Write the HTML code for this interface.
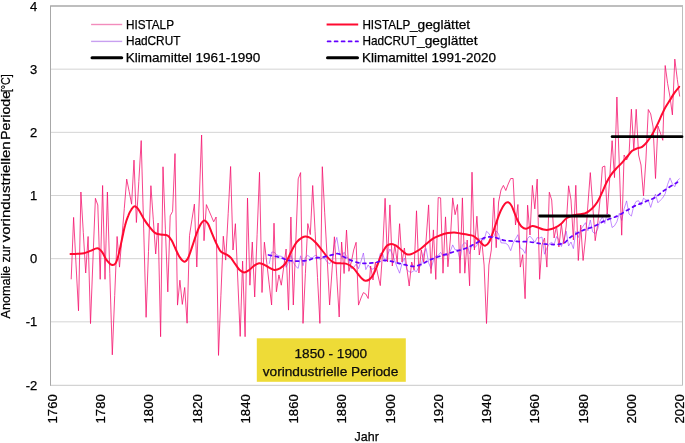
<!DOCTYPE html>
<html><head><meta charset="utf-8"><style>
html,body{margin:0;padding:0;background:#fff;}
svg{display:block;will-change:transform;}
text{stroke:#000;stroke-width:0.25px;}
</style></head><body>
<svg width="685" height="443" viewBox="0 0 685 443">
<rect width="685" height="443" fill="#fff"/>
<line x1="51" y1="69.17" x2="682" y2="69.17" stroke="#d4d4d4" stroke-width="1"/>
<line x1="51" y1="132.33" x2="682" y2="132.33" stroke="#d4d4d4" stroke-width="1"/>
<line x1="51" y1="195.50" x2="682" y2="195.50" stroke="#d4d4d4" stroke-width="1"/>
<line x1="51" y1="258.67" x2="682" y2="258.67" stroke="#d4d4d4" stroke-width="1"/>
<line x1="51" y1="321.83" x2="682" y2="321.83" stroke="#d4d4d4" stroke-width="1"/>
<line x1="50.5" y1="6" x2="683" y2="6" stroke="#a8a8a8" stroke-width="1.6"/>
<line x1="682.5" y1="6" x2="682.5" y2="385.5" stroke="#bdbdbd" stroke-width="1"/>
<line x1="50.5" y1="385.3" x2="682.5" y2="385.3" stroke="#c8c8c8" stroke-width="1"/>
<line x1="50.5" y1="5.5" x2="50.5" y2="385.8" stroke="#a8a8a8" stroke-width="1"/>
<polyline points="269.2,263.9 271.6,252.2 274.0,252.0 276.4,254.6 278.9,255.9 281.3,256.3 283.7,257.7 286.1,267.3 288.5,262.0 290.9,255.3 293.3,262.3 295.8,266.4 298.2,268.4 300.6,255.8 303.0,265.7 305.4,257.2 307.8,255.4 310.3,257.5 312.7,257.8 315.1,255.2 317.5,256.3 319.9,259.5 322.3,258.0 324.7,258.5 327.2,262.1 329.6,263.8 332.0,261.3 334.4,244.6 336.8,237.4 339.2,252.2 341.6,257.4 344.1,252.2 346.5,256.2 348.9,259.4 351.3,268.6 353.7,267.3 356.1,264.2 358.5,268.7 361.0,261.3 363.4,253.0 365.8,269.6 368.2,264.9 370.6,268.5 373.0,269.2 375.4,266.7 377.9,263.7 380.3,253.4 382.7,253.8 385.1,261.8 387.5,255.1 389.9,249.0 392.3,253.8 394.8,260.8 397.2,267.4 399.6,273.2 402.0,263.3 404.4,258.1 406.8,269.7 409.2,271.7 411.7,272.2 414.1,270.5 416.5,271.6 418.9,266.6 421.3,265.5 423.7,253.7 426.1,248.5 428.6,262.7 431.0,268.6 433.4,260.9 435.8,256.1 438.2,255.4 440.6,252.4 443.0,256.1 445.5,255.4 447.9,255.5 450.3,251.3 452.7,244.9 455.1,249.8 457.5,249.8 460.0,259.7 462.4,245.0 464.8,242.5 467.2,244.7 469.6,253.9 472.0,244.7 474.4,247.9 476.9,245.6 479.3,238.8 481.7,238.9 484.1,240.1 486.5,231.3 488.9,233.4 491.3,237.8 493.8,236.6 496.2,230.9 498.6,234.0 501.0,242.8 503.4,243.0 505.8,243.3 508.2,245.2 510.7,250.7 513.1,243.1 515.5,239.0 517.9,234.7 520.3,248.2 522.7,249.3 525.1,253.4 527.6,238.3 530.0,236.1 532.4,238.9 534.8,242.3 537.2,237.6 539.6,238.0 542.0,237.0 544.5,254.2 546.9,248.0 549.3,243.8 551.7,242.4 554.1,244.5 556.5,236.6 558.9,239.7 561.4,246.5 563.8,239.8 566.2,231.2 568.6,246.0 571.0,242.0 573.4,248.6 575.8,231.6 578.3,237.5 580.7,229.4 583.1,226.1 585.5,222.7 587.9,230.7 590.3,220.0 592.7,231.9 595.2,233.7 597.6,229.3 600.0,221.0 602.4,216.7 604.8,223.5 607.2,213.3 609.6,215.5 612.1,227.5 614.5,225.8 616.9,221.7 619.3,213.3 621.7,220.5 624.1,208.8 626.6,200.9 629.0,214.0 631.4,216.1 633.8,205.7 636.2,201.4 638.6,200.7 641.0,205.3 643.5,198.2 645.9,200.0 648.3,200.2 650.7,207.4 653.1,199.4 655.5,194.1 657.9,202.8 660.4,200.2 662.8,197.8 665.2,193.7 667.6,184.4 670.0,177.9 672.4,183.8 674.8,186.7 677.3,180.8 679.7,178.4" fill="none" stroke="#9a40ff" stroke-width="0.6" stroke-linejoin="round"/>
<polyline points="71.2,279.3 73.6,217.4 76.0,264.1 78.5,310.8 80.9,192.0 83.3,232.5 85.7,273.0 88.1,236.5 90.5,323.6 92.9,261.0 95.4,198.3 97.8,205.0 100.2,279.3 102.6,185.5 105.0,279.3 107.4,192.0 109.8,273.4 112.3,354.8 114.7,295.6 117.1,236.5 119.5,267.1 121.9,237.8 124.3,208.4 126.7,179.1 129.2,191.6 131.6,204.2 134.0,160.1 136.4,222.5 138.8,181.6 141.2,140.6 143.7,228.9 146.1,317.3 148.5,251.5 150.9,185.7 153.3,219.8 155.7,254.0 158.1,223.0 160.6,336.7 163.0,166.8 165.4,229.3 167.8,291.9 170.2,215.8 172.6,211.4 175.0,153.6 177.5,305.1 179.9,280.2 182.3,304.4 184.7,287.5 187.1,323.2 189.5,235.6 191.9,219.8 194.4,204.1 196.8,267.0 199.2,201.0 201.6,135.0 204.0,240.7 206.4,204.6 208.8,210.3 211.3,216.1 213.7,221.8 216.1,217.0 218.5,355.4 220.9,295.8 223.3,236.2 225.7,260.1 228.2,213.3 230.6,166.5 233.0,250.0 235.4,223.7 237.8,280.0 240.2,336.4 242.6,261.1 245.1,336.7 247.5,198.0 249.9,285.2 252.3,242.0 254.7,297.0 257.1,234.7 259.5,172.3 262.0,292.5 264.4,242.2 266.8,263.1 269.2,284.1 271.6,305.0 274.0,223.2 276.4,291.8 278.9,274.9 281.3,285.2 283.7,267.1 286.1,249.0 288.5,310.1 290.9,217.0 293.3,305.0 295.8,241.9 298.2,178.9 300.6,172.6 303.0,323.4 305.4,273.5 307.8,223.6 310.3,234.6 312.7,185.5 315.1,231.5 317.5,277.4 319.9,323.4 322.3,166.7 324.7,212.8 327.2,258.9 329.6,305.0 332.0,270.9 334.4,236.8 336.8,276.9 339.2,317.0 341.6,242.0 344.1,273.5 346.5,230.0 348.9,271.3 351.3,262.0 353.7,250.0 356.1,242.3 358.5,305.1 361.0,298.0 363.4,292.6 365.8,294.0 368.2,298.5 370.6,266.0 373.0,280.0 375.4,262.0 377.9,275.0 380.3,285.6 382.7,250.0 385.1,198.3 387.5,262.0 389.9,204.9 392.3,266.0 394.8,245.0 397.2,262.0 399.6,223.7 402.0,262.0 404.4,248.0 406.8,268.0 409.2,286.0 411.7,262.0 414.1,270.0 416.5,210.8 418.9,273.0 421.3,250.0 423.7,262.0 426.1,240.0 428.6,204.9 431.0,273.5 433.4,229.9 435.8,279.4 438.2,197.6 440.6,197.9 443.0,273.2 445.5,216.9 447.9,266.8 450.3,240.0 452.7,197.9 455.1,214.7 457.5,204.5 460.0,273.2 462.4,197.9 464.8,273.2 467.2,240.0 469.6,285.8 472.0,172.2 474.4,250.0 476.9,216.2 479.3,255.0 481.7,240.0 484.1,265.0 486.5,323.5 488.9,265.0 491.3,250.0 493.8,197.9 496.2,247.7 498.6,202.0 501.0,190.0 503.4,185.4 505.8,190.5 508.2,184.0 510.7,178.5 513.1,178.5 515.5,225.0 517.9,204.5 520.3,267.1 522.7,254.7 525.1,298.7 527.6,205.2 530.0,235.0 532.4,185.4 534.8,208.9 537.2,179.1 539.6,279.3 542.0,245.0 544.5,238.0 546.9,267.1 549.3,192.2 551.7,200.0 554.1,238.0 556.5,226.0 558.9,247.0 561.4,224.0 563.8,244.0 566.2,226.0 568.6,185.8 571.0,200.0 573.4,240.0 575.8,185.3 578.3,260.5 580.7,225.0 583.1,260.5 585.5,238.0 587.9,205.0 590.3,172.6 592.7,205.0 595.2,240.7 597.6,225.0 600.0,200.0 602.4,167.0 604.8,166.0 607.2,214.0 609.6,180.0 612.1,140.7 614.5,177.6 616.9,97.0 619.3,165.0 621.7,235.2 624.1,155.0 626.6,160.0 629.0,155.0 631.4,109.2 633.8,150.0 636.2,109.3 638.6,155.0 641.0,165.0 643.5,195.9 645.9,160.0 648.3,109.5 650.7,113.9 653.1,127.0 655.5,178.5 657.9,126.0 660.4,133.0 662.8,140.3 665.2,65.5 667.6,83.4 670.0,97.0 672.4,114.9 674.8,59.1 677.3,79.4 679.7,96.5" fill="none" stroke="#f5146e" stroke-width="0.8" stroke-linejoin="round"/>
<path d="M70.5,254.1 C71.7,254.1 75.3,253.9 77.6,253.8 C79.8,253.7 81.9,253.8 84.0,253.3 C86.1,252.8 88.1,251.8 90.3,250.9 C92.5,250.1 95.4,248.0 97.4,248.2 C99.4,248.4 100.8,250.3 102.2,252.2 C103.7,254.0 104.5,257.2 106.1,259.3 C107.7,261.4 110.0,264.2 111.6,264.8 C113.2,265.4 114.4,265.0 115.6,263.2 C116.8,261.4 117.8,257.8 118.8,253.8 C119.8,249.9 120.9,244.2 121.9,239.5 C123.0,234.8 124.0,229.2 125.1,225.3 C126.1,221.4 127.1,218.4 128.2,215.8 C129.2,213.2 130.3,211.1 131.4,209.5 C132.5,207.9 133.4,206.3 134.6,206.3 C135.8,206.3 136.9,207.3 138.5,209.5 C140.1,211.7 142.3,216.5 144.1,219.4 C145.9,222.3 147.7,224.7 149.5,226.9 C151.3,229.2 153.2,231.6 155.0,232.9 C156.8,234.2 158.5,234.1 160.6,234.5 C162.7,234.9 165.9,234.6 167.7,235.6 C169.5,236.6 170.3,238.1 171.6,240.3 C172.9,242.5 174.3,246.2 175.6,249.0 C176.9,251.8 178.1,254.8 179.5,256.9 C180.9,259.0 182.9,261.6 184.3,261.7 C185.8,261.8 186.9,260.2 188.2,257.7 C189.5,255.2 190.9,250.4 192.2,246.6 C193.5,242.8 194.8,238.4 196.1,234.8 C197.4,231.2 198.8,227.7 200.1,225.3 C201.4,222.9 202.7,220.9 204.0,220.6 C205.3,220.3 206.7,221.6 208.0,223.7 C209.3,225.8 210.6,230.0 211.9,233.2 C213.2,236.4 214.6,239.9 215.9,242.7 C217.2,245.5 218.7,248.5 219.8,250.2 C220.9,251.9 221.2,251.9 222.4,252.7 C223.6,253.5 225.7,253.9 227.2,254.8 C228.7,255.7 229.8,256.6 231.2,258.2 C232.5,259.8 233.8,262.2 235.3,264.2 C236.8,266.2 238.5,268.9 240.0,270.3 C241.5,271.7 242.6,272.4 244.1,272.4 C245.6,272.4 247.1,271.4 248.8,270.3 C250.5,269.2 252.5,266.8 254.2,265.6 C255.9,264.4 257.4,263.5 259.0,263.3 C260.6,263.1 262.0,263.8 263.7,264.5 C265.4,265.2 267.3,266.7 269.1,267.6 C270.9,268.5 272.7,269.8 274.5,269.9 C276.3,270.0 278.2,269.4 280.0,268.3 C281.8,267.2 283.6,266.2 285.5,263.4 C287.4,260.6 289.4,255.1 291.3,251.5 C293.2,247.9 295.0,244.2 296.9,241.9 C298.8,239.6 301.0,238.3 302.5,237.4 C304.0,236.5 304.4,236.5 305.7,236.6 C307.0,236.7 308.7,236.9 310.4,238.0 C312.1,239.1 314.2,241.0 316.1,243.0 C318.0,245.0 319.8,247.5 321.7,249.8 C323.6,252.2 325.5,255.0 327.4,257.1 C329.3,259.2 331.3,261.2 333.0,262.2 C334.7,263.2 336.2,263.1 337.5,263.3 C338.8,263.5 339.6,263.1 341.0,263.2 C342.4,263.2 344.3,263.2 345.8,263.6 C347.3,264.0 348.5,264.7 349.9,265.5 C351.2,266.3 352.5,267.2 353.9,268.6 C355.2,270.0 356.6,272.3 358.0,274.0 C359.4,275.7 360.9,277.6 362.1,278.7 C363.3,279.8 364.2,280.6 365.4,280.7 C366.6,280.8 368.1,280.5 369.5,279.4 C370.9,278.3 372.4,276.1 373.6,274.0 C374.8,271.9 375.8,269.3 376.9,266.5 C378.0,263.7 379.2,259.8 380.3,257.1 C381.4,254.4 382.6,252.2 383.7,250.3 C384.8,248.4 385.9,246.7 387.1,245.6 C388.4,244.5 389.9,244.0 391.2,243.9 C392.5,243.8 393.8,244.5 395.2,245.2 C396.6,245.9 397.9,247.2 399.3,248.3 C400.7,249.4 402.1,250.7 403.3,251.7 C404.5,252.7 405.4,253.8 406.7,254.2 C407.9,254.6 409.5,254.6 410.8,254.3 C412.1,254.0 413.0,253.5 414.7,252.5 C416.4,251.5 419.0,250.1 421.1,248.5 C423.2,246.9 425.3,244.7 427.4,243.0 C429.5,241.3 431.3,239.6 433.7,238.2 C436.1,236.8 439.2,235.6 441.6,234.7 C444.0,233.8 445.8,233.4 447.9,233.0 C450.0,232.6 452.2,232.3 454.3,232.4 C456.4,232.5 458.5,233.1 460.6,233.5 C462.7,233.9 464.8,234.2 466.9,234.6 C469.0,235.0 471.3,234.9 473.2,235.8 C475.1,236.7 476.6,238.5 478.0,239.8 C479.4,241.1 480.7,242.8 481.9,243.8 C483.1,244.8 483.9,246.0 485.1,245.7 C486.3,245.4 487.7,244.4 489.0,242.2 C490.3,240.0 491.6,236.3 492.9,232.7 C494.2,229.1 495.6,224.5 496.9,220.8 C498.2,217.1 499.5,213.4 500.8,210.6 C502.1,207.8 503.6,205.3 504.8,203.9 C506.0,202.5 506.8,202.1 507.9,202.3 C508.9,202.5 510.1,203.4 511.1,205.0 C512.2,206.6 513.2,209.6 514.2,212.1 C515.2,214.6 516.2,217.6 517.4,220.0 C518.6,222.4 519.9,225.0 521.4,226.4 C522.9,227.8 524.3,228.8 526.1,228.7 C527.9,228.6 530.5,226.2 532.4,226.0 C534.2,225.8 535.4,226.6 537.2,227.2 C539.1,227.8 541.7,229.1 543.5,229.5 C545.3,229.9 546.4,230.1 548.2,229.8 C550.1,229.5 552.5,228.9 554.6,227.9 C556.7,226.9 558.9,225.7 560.9,224.0 C562.9,222.3 564.3,219.6 566.8,218.0 C569.3,216.4 572.8,215.4 575.8,214.7 C578.8,213.9 582.2,214.4 584.8,213.5 C587.4,212.6 589.5,210.9 591.6,209.0 C593.7,207.1 595.5,204.8 597.2,202.2 C598.9,199.6 600.3,196.4 601.8,193.2 C603.3,190.0 604.8,186.0 606.3,183.0 C607.8,180.0 609.1,177.5 610.8,175.1 C612.5,172.7 614.5,170.5 616.4,168.4 C618.3,166.3 620.2,164.8 622.1,162.7 C624.0,160.6 626.0,158.0 627.7,156.0 C629.4,154.0 630.6,152.1 632.2,150.8 C633.9,149.5 636.0,148.9 637.6,148.2 C639.2,147.5 640.6,147.8 642.1,146.8 C643.6,145.8 645.2,144.1 646.7,142.3 C648.2,140.5 649.9,138.1 651.2,136.0 C652.6,133.9 653.6,131.9 654.8,129.6 C656.0,127.3 657.2,125.0 658.4,122.4 C659.6,119.9 660.8,116.8 662.0,114.3 C663.2,111.8 664.2,109.5 665.6,107.1 C667.0,104.7 668.6,102.3 670.1,99.9 C671.6,97.5 673.1,94.8 674.6,92.6 C676.1,90.4 678.4,87.9 679.2,86.9" fill="none" stroke="#ff0a30" stroke-width="2.0" stroke-linejoin="round" stroke-linecap="round"/>
<path d="M268.5,255.0 C270.4,255.4 276.6,256.6 280.0,257.5 C283.4,258.4 286.0,259.9 289.0,260.5 C292.0,261.1 295.0,261.1 298.0,261.1 C301.0,261.1 304.5,261.0 307.1,260.5 C309.7,260.0 311.2,258.9 313.8,258.3 C316.4,257.7 319.8,257.7 322.8,257.1 C325.8,256.5 329.4,255.5 331.9,254.9 C334.4,254.3 336.1,253.4 338.0,253.7 C339.9,253.9 340.9,255.3 343.1,256.4 C345.3,257.5 348.5,259.3 351.2,260.4 C353.9,261.5 356.7,262.4 359.4,262.9 C362.1,263.4 364.8,263.3 367.5,263.2 C370.2,263.1 372.9,263.0 375.6,262.5 C378.3,262.0 381.0,260.6 383.7,260.4 C386.4,260.2 389.1,260.9 391.8,261.4 C394.5,261.9 397.3,262.9 400.0,263.6 C402.7,264.3 405.6,265.1 408.1,265.5 C410.6,265.9 412.4,266.6 414.8,266.3 C417.2,266.0 420.1,264.7 422.7,263.6 C425.3,262.5 427.5,260.9 430.6,259.6 C433.8,258.3 437.7,256.9 441.6,255.6 C445.6,254.3 450.4,252.9 454.3,251.7 C458.2,250.5 461.6,249.9 465.3,248.5 C469.0,247.1 473.1,244.8 476.4,243.0 C479.7,241.2 482.0,238.4 485.0,237.5 C488.0,236.6 491.3,236.9 494.5,237.4 C497.7,237.9 500.3,239.6 504.0,240.3 C507.7,241.0 512.4,241.1 516.6,241.4 C520.8,241.7 525.1,241.5 529.3,241.9 C533.5,242.3 537.7,243.4 541.9,243.8 C546.1,244.2 550.9,244.6 554.6,244.5 C558.3,244.4 561.4,244.2 564.0,243.0 C566.6,241.8 567.2,239.4 570.2,237.4 C573.2,235.4 578.0,232.6 581.9,230.8 C585.8,229.0 589.8,228.1 593.7,226.4 C597.6,224.7 601.5,222.2 605.4,220.5 C609.3,218.8 613.7,217.7 617.1,216.1 C620.5,214.5 622.9,212.7 625.9,211.0 C628.9,209.3 631.8,207.4 635.0,205.9 C638.2,204.4 641.7,203.2 645.0,201.8 C648.3,200.4 651.4,199.6 654.6,197.7 C657.9,195.8 660.7,192.9 664.5,190.3 C668.3,187.7 675.3,183.5 677.5,182.2" fill="none" stroke="#6400ff" stroke-width="1.75" stroke-dasharray="3.0 4.0" stroke-linecap="round" stroke-linejoin="round"/>
<line x1="539.6" y1="216.0" x2="609.4" y2="216.0" stroke="#000" stroke-width="2.8" stroke-linecap="round"/>
<line x1="612.1" y1="136.7" x2="682" y2="136.7" stroke="#000" stroke-width="2.8" stroke-linecap="round"/>
<rect x="256.8" y="338.3" width="149" height="43.5" fill="#eedb37"/>
<text x="330.8" y="358.3" text-anchor="middle" textLength="72.5" lengthAdjust="spacingAndGlyphs" style="font-family:'Liberation Sans',sans-serif;font-size:13px" fill="#111">1850 - 1900</text>
<text x="330.5" y="376.4" text-anchor="middle" textLength="135.7" lengthAdjust="spacingAndGlyphs" style="font-family:'Liberation Sans',sans-serif;font-size:13px" fill="#111">vorindustrielle Periode</text>
<line x1="91.1" y1="24.5" x2="122.2" y2="24.5" stroke="#f28cbc" stroke-width="1.4"/>
<line x1="91.1" y1="41.4" x2="122.2" y2="41.4" stroke="#c8a0f0" stroke-width="1.4"/>
<line x1="92" y1="57.7" x2="121.7" y2="57.7" stroke="#000" stroke-width="3" stroke-linecap="round"/>
<line x1="326.6" y1="24.5" x2="358.2" y2="24.5" stroke="#ff0a30" stroke-width="2.0"/>
<line x1="327.6" y1="41.4" x2="358" y2="41.4" stroke="#6400ff" stroke-width="1.75" stroke-dasharray="3.0 4.0" stroke-linecap="round"/>
<line x1="327.5" y1="57.7" x2="357.5" y2="57.7" stroke="#000" stroke-width="3" stroke-linecap="round"/>
<text x="125.9" y="28.7" text-anchor="start" textLength="48.1" lengthAdjust="spacingAndGlyphs" style="font-family:'Liberation Sans',sans-serif;font-size:13px" fill="#000" >HISTALP</text>
<text x="125.9" y="45.3" text-anchor="start" textLength="54.5" lengthAdjust="spacingAndGlyphs" style="font-family:'Liberation Sans',sans-serif;font-size:13px" fill="#000" >HadCRUT</text>
<text x="125.8" y="61.7" text-anchor="start" textLength="134.4" lengthAdjust="spacingAndGlyphs" style="font-family:'Liberation Sans',sans-serif;font-size:13px" fill="#000" >Klimamittel 1961-1990</text>
<text x="362.4" y="28.7" text-anchor="start" textLength="47.9" lengthAdjust="spacingAndGlyphs" style="font-family:'Liberation Sans',sans-serif;font-size:13px" fill="#000" >HISTALP</text>
<text x="409.9" y="28.7" text-anchor="start" textLength="60.3" lengthAdjust="spacingAndGlyphs" style="font-family:'Liberation Sans',sans-serif;font-size:13px" fill="#000" >_geglättet</text>
<text x="362.4" y="45.3" text-anchor="start" textLength="54.3" lengthAdjust="spacingAndGlyphs" style="font-family:'Liberation Sans',sans-serif;font-size:13px" fill="#000" >HadCRUT</text>
<text x="417.0" y="45.3" text-anchor="start" textLength="60.6" lengthAdjust="spacingAndGlyphs" style="font-family:'Liberation Sans',sans-serif;font-size:13px" fill="#000" >_geglättet</text>
<text x="362.0" y="61.7" text-anchor="start" textLength="134.0" lengthAdjust="spacingAndGlyphs" style="font-family:'Liberation Sans',sans-serif;font-size:13px" fill="#000" >Klimamittel 1991-2020</text>
<text x="37.2" y="10.6" text-anchor="end" style="font-family:'Liberation Sans',sans-serif;font-size:13px" fill="#000" >4</text>
<text x="37.2" y="73.76669999999999" text-anchor="end" style="font-family:'Liberation Sans',sans-serif;font-size:13px" fill="#000" >3</text>
<text x="37.2" y="136.93339999999998" text-anchor="end" style="font-family:'Liberation Sans',sans-serif;font-size:13px" fill="#000" >2</text>
<text x="37.2" y="200.1001" text-anchor="end" style="font-family:'Liberation Sans',sans-serif;font-size:13px" fill="#000" >1</text>
<text x="37.2" y="263.2668" text-anchor="end" style="font-family:'Liberation Sans',sans-serif;font-size:13px" fill="#000" >0</text>
<text x="37.2" y="326.43350000000004" text-anchor="end" style="font-family:'Liberation Sans',sans-serif;font-size:13px" fill="#000" >-1</text>
<text x="37.2" y="389.60020000000003" text-anchor="end" style="font-family:'Liberation Sans',sans-serif;font-size:13px" fill="#000" >-2</text>
<text transform="translate(56.90,423.4) rotate(-90)" textLength="29.1" lengthAdjust="spacingAndGlyphs" style="font-family:'Liberation Sans',sans-serif;font-size:13px" fill="#000">1760</text>
<text transform="translate(105.15,423.4) rotate(-90)" textLength="29.1" lengthAdjust="spacingAndGlyphs" style="font-family:'Liberation Sans',sans-serif;font-size:13px" fill="#000">1780</text>
<text transform="translate(153.39,423.4) rotate(-90)" textLength="29.1" lengthAdjust="spacingAndGlyphs" style="font-family:'Liberation Sans',sans-serif;font-size:13px" fill="#000">1800</text>
<text transform="translate(201.64,423.4) rotate(-90)" textLength="29.1" lengthAdjust="spacingAndGlyphs" style="font-family:'Liberation Sans',sans-serif;font-size:13px" fill="#000">1820</text>
<text transform="translate(249.88,423.4) rotate(-90)" textLength="29.1" lengthAdjust="spacingAndGlyphs" style="font-family:'Liberation Sans',sans-serif;font-size:13px" fill="#000">1840</text>
<text transform="translate(298.13,423.4) rotate(-90)" textLength="29.1" lengthAdjust="spacingAndGlyphs" style="font-family:'Liberation Sans',sans-serif;font-size:13px" fill="#000">1860</text>
<text transform="translate(346.38,423.4) rotate(-90)" textLength="29.1" lengthAdjust="spacingAndGlyphs" style="font-family:'Liberation Sans',sans-serif;font-size:13px" fill="#000">1880</text>
<text transform="translate(394.62,423.4) rotate(-90)" textLength="29.1" lengthAdjust="spacingAndGlyphs" style="font-family:'Liberation Sans',sans-serif;font-size:13px" fill="#000">1900</text>
<text transform="translate(442.87,423.4) rotate(-90)" textLength="29.1" lengthAdjust="spacingAndGlyphs" style="font-family:'Liberation Sans',sans-serif;font-size:13px" fill="#000">1920</text>
<text transform="translate(491.11,423.4) rotate(-90)" textLength="29.1" lengthAdjust="spacingAndGlyphs" style="font-family:'Liberation Sans',sans-serif;font-size:13px" fill="#000">1940</text>
<text transform="translate(539.36,423.4) rotate(-90)" textLength="29.1" lengthAdjust="spacingAndGlyphs" style="font-family:'Liberation Sans',sans-serif;font-size:13px" fill="#000">1960</text>
<text transform="translate(587.61,423.4) rotate(-90)" textLength="29.1" lengthAdjust="spacingAndGlyphs" style="font-family:'Liberation Sans',sans-serif;font-size:13px" fill="#000">1980</text>
<text transform="translate(635.85,423.4) rotate(-90)" textLength="29.1" lengthAdjust="spacingAndGlyphs" style="font-family:'Liberation Sans',sans-serif;font-size:13px" fill="#000">2000</text>
<text transform="translate(684.10,423.4) rotate(-90)" textLength="29.1" lengthAdjust="spacingAndGlyphs" style="font-family:'Liberation Sans',sans-serif;font-size:13px" fill="#000">2020</text>
<text transform="translate(9.7,318.4) rotate(-90)" textLength="73.4" lengthAdjust="spacingAndGlyphs" style="font-family:'Liberation Sans',sans-serif;font-size:13px" fill="#000">Anomalie zur</text>
<text transform="translate(9.7,242.3) rotate(-90)" textLength="101.0" lengthAdjust="spacingAndGlyphs" style="font-family:'Liberation Sans',sans-serif;font-size:13px" fill="#000">vorindustriellen</text>
<text transform="translate(9.7,140.0) rotate(-90)" textLength="49.2" lengthAdjust="spacingAndGlyphs" style="font-family:'Liberation Sans',sans-serif;font-size:13px" fill="#000">Periode</text>
<text transform="translate(9.7,92.3) rotate(-90)" textLength="18.0" lengthAdjust="spacingAndGlyphs" style="font-family:'Liberation Sans',sans-serif;font-size:13px" fill="#000">[°C]</text>
<text x="354.6" y="441.2" text-anchor="start" textLength="24.2" lengthAdjust="spacingAndGlyphs" style="font-family:'Liberation Sans',sans-serif;font-size:13px" fill="#000" >Jahr</text>
</svg>
</body></html>
